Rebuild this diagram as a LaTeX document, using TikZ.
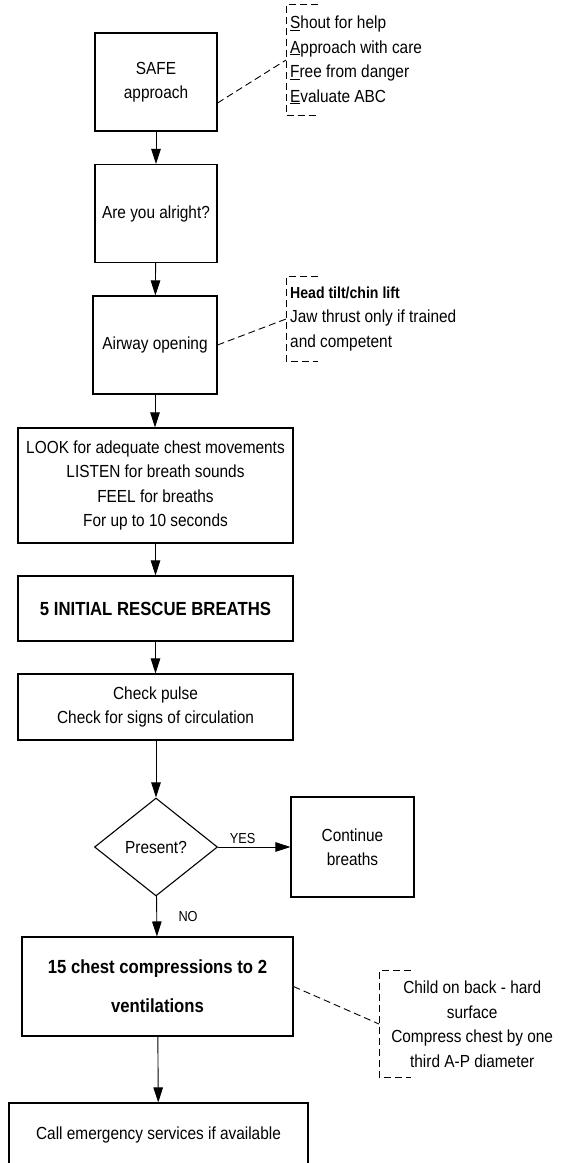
\documentclass[tikz,border=0pt]{standalone}
\usepackage{fontspec}
\setmainfont{Liberation Sans}[FakeStretch = 0.88]
\usetikzlibrary{arrows.meta, shapes.geometric}

\begin{document}
\begin{tikzpicture}[
    x = 1pt, y = -1pt,
    >= {Triangle[length = 15pt, width = 9.5pt]},
    stage/.style = {draw, rectangle,
      line width = 1.1pt,
      align = center,
      inner sep = 0pt,
      font = \fontsize{17.5}{24.5}\selectfont},
    narrow/.style = {minimum width = 122pt,
      minimum height = 98pt},
    wide/.style = {minimum width = 275pt},
    heavy/.style = {font = \fontsize{19}{25}\selectfont\bfseries},
    decision/.style = {draw, diamond,
      line width = 1.1pt,
      aspect = 1.25,
      inner sep = 0pt,
      minimum width = 123pt,
      minimum height = 98pt,
      font = \fontsize{17.5}{24.5}\selectfont},
    note/.style = {anchor = west,
      inner xsep = 4pt, inner ysep = 0pt,
      font = \fontsize{17.5}{24.5}\selectfont},
    bracket/.style = {line width = 0.9pt,
      dash pattern = on 7pt off 4pt},
    flow/.style = {->, line width = 0.9pt},
    answer/.style = {font = \fontsize{14.5}{16}\selectfont},
    ]

    \useasboundingbox (0, 0) rectangle (561, 1163);
    \clip (0, 0) rectangle (561, 1163);

    % main column
    \node at (156, 82)
    [stage, narrow, name = safe] {SAFE\\approach};
    \node at (156, 213.5)
    [stage, narrow, name = alright] {Are you alright?};
    \node at (155, 345)
    [stage, narrow, minimum width = 124pt, name = airway] {Airway opening};

    \node at (155.5, 485.5)
    [stage, wide, minimum height = 115pt, name = look]
    {LOOK for adequate chest movements\\LISTEN for breath sounds\\FEEL for breaths\\For up to 10 seconds};
    \node at (155.5, 608.5)
    [stage, wide, heavy, minimum height = 65pt, name = rescue] {5 INITIAL RESCUE BREATHS};
    \node at (155.5, 707)
    [stage, wide, minimum height = 66pt, name = pulse]
    {Check pulse\\Check for signs of circulation};

    \node at (156, 847)
    [decision, name = present] {Present?};
    \node at (352.5, 847)
    [stage, minimum width = 123pt, minimum height = 100pt, name = continue] {Continue\\breaths};

    \node at (157.5, 986.5)
    [stage, minimum width = 271pt, minimum height = 99pt,
      font = \fontsize{19}{39}\selectfont\bfseries, name = chest]
    {15 chest compressions to 2\\ventilations};
    \node at (158.5, 1135)
    [stage, minimum width = 299pt, minimum height = 64pt, name = call]
    {Call emergency services if available};

    % side notes
    \node at (286, 60)
    [note, align = left, minimum height = 110pt, name = safe_note]
    {\underline{S}hout for help\\\underline{A}pproach with care\\
      \underline{F}ree from danger\\\underline{E}valuate ABC};
    \node at (286, 319)
    [note, align = left, minimum height = 84pt, name = airway_note]
    {{\fontsize{16}{24.5}\selectfont\bfseries Head tilt/chin lift}\\
      Jaw thrust only if trained\\and competent};
    \node at (379, 1024)
    [note, align = center, inner xsep = 0pt, minimum width = 186pt,
      minimum height = 106pt, name = chest_note]
    {Child on back - hard\\surface\\Compress chest by one\\third A-P diameter};

    \foreach \n in {safe_note, airway_note, chest_note}
    \draw [bracket] ([xshift = 32pt]\n.north west) -- (\n.north west)
    -- (\n.south west) -- ([xshift = 32pt]\n.south west);

    \draw [bracket] ([yshift = -21pt]safe.east) -- (safe_note.west);
    \draw [bracket] (airway.east) -- (airway_note.west);
    \draw [bracket] (chest.east) -- (chest_note.west);

    % flow
    \draw [flow] (safe) to (alright);
    \draw [flow] (alright) to (airway);
    \draw [flow] (airway.south) to (look.north -| airway.south);
    \draw [flow] (look) to (rescue);
    \draw [flow] (rescue) to (pulse);
    \draw [flow] (pulse.south -| present) to (present);
    \draw [flow] (present) to node [answer, above, pos = 0.34] {YES} (continue);
    \draw [flow] (present) to node [answer, right, xshift = 18pt] {NO} (chest);
    \draw [flow] (chest) to (call);
  \end{tikzpicture}
\end{document}
